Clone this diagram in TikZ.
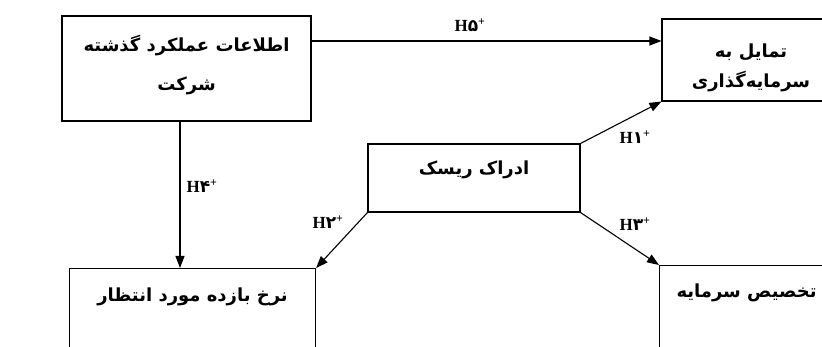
\documentclass[tikz,border=0pt]{standalone}
\usepackage{fontspec}
\setmainfont{Liberation Serif}
\newfontfamily\fa[Script=Arabic]{DejaVu Sans}
\TeXXeTstate=1
\usetikzlibrary{arrows.meta}
\begin{document}
\begin{tikzpicture}[x=1pt,y=-1pt,
  box/.style={draw, line width=1.1pt, rectangle, inner sep=0pt, align=center,
    font=\fa\bfseries\fontsize{18}{22}\selectfont},
  arr/.style={-{Triangle[length=12pt,width=9pt]}, line width=1.1pt},
  lab/.style={font=\fontsize{17}{20}\selectfont\bfseries, inner sep=0pt}
]
\useasboundingbox (0,0) rectangle (822,347);
\clip (0,0) rectangle (822,347);
\node[box, minimum width=249pt, minimum height=105pt] (b1) at (186.5,68.5)
  {\beginR اطلاعات عملکرد گذشته\endR\\[17pt]\beginR شرکت\endR\rule[-12pt]{0pt}{0pt}};
\node[box, minimum width=178pt, minimum height=82pt] (b2) at (751,60)
  {\rule{0pt}{30pt}\beginR تمایل به\endR\\[8pt]\beginR سرمایه‌گذاری\endR};
\node[box, minimum width=212pt, text height=31pt, text depth=37pt] (b3) at (474,178)
  {\beginR ادراک ریسک\endR};
\node[box, minimum width=246pt, text height=33pt, text depth=60pt, anchor=north west] (b4) at (69,268)
  {\beginR نرخ بازده مورد انتظار\endR};
\node[box, minimum width=174pt, text height=32pt, text depth=60pt, anchor=north west] (b5) at (659,265)
  {\beginR تخصیص سرمایه\endR};
\draw[arr] (b1.east |- 0,41) -- (b2.west |- 0,41);
\draw[arr] (b3.north east) -- (b2.south west);
\draw[arr] (b1.south -| 180,0) -- (b4.north -| 180,0);
\draw[arr] (b3.south west) -- (b4.north east);
\draw[arr] (b3.south east) -- (b5.north west);
\node[lab] (l5) at (470,25) {H{\fa ۵}\textsuperscript{+}};
\node[lab] (l1) at (635,137) {H{\fa ۱}\textsuperscript{+}};
\node[lab] (l4) at (202,186) {H{\fa ۴}\textsuperscript{+}};
\node[lab] (l2) at (328,222) {H{\fa ۲}\textsuperscript{+}};
\node[lab] (l3) at (635,224) {H{\fa ۳}\textsuperscript{+}};
\end{tikzpicture}
\end{document}
